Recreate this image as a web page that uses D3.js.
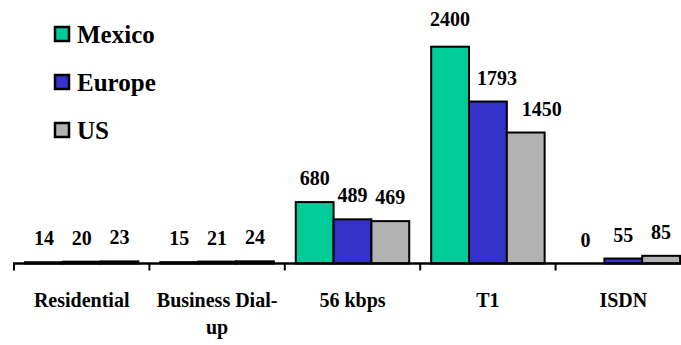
<!DOCTYPE html>
<html>
<head>
<meta charset="utf-8">
<script src="https://cdn.jsdelivr.net/npm/d3@7/dist/d3.min.js"></script>
<style>
  html, body { margin: 0; padding: 0; background: #fff; }
  svg { display: block; }
</style>
</head>
<body>
<svg id="chart" width="681" height="345"></svg>
<script>
// Connection types and monthly cost per country
const categories = ["Residential", "Business Dial-up", "56 kbps", "T1", "ISDN"];
const seriesNames = ["Mexico", "Europe", "US"];
const mexico = [14, 15, 680, 2400, 0];
const europe = [20, 21, 489, 1793, 55];
const us = [23, 24, 469, 1450, 85];

const seriesValues = [mexico, europe, us];
const colors = ["#00CC99", "#3333CC", "#B2B2B2"];

const svg = d3.select("#chart");
const W = 681, H = 345;
const FONT = "Times New Roman";

const axisY = 263.5;
const x0 = d3.scaleBand().domain(categories).range([14, 14 + 135.4 * categories.length]).padding(0);
const x1 = d3.scaleBand().domain(seriesNames).range([0, x0.bandwidth()]).paddingOuter(0.29).paddingInner(0);
const y = d3.scaleLinear().domain([0, 2400]).range([axisY, 46.7]);

// One record per bar
const cells = [];
categories.forEach((c, ci) => seriesNames.forEach((s, si) =>
  cells.push({ cat: c, ser: s, si, v: seriesValues[si][ci] })));
const barX = d => x0(d.cat) + x1(d.ser);

// Bars
svg.selectAll("rect.bar").data(cells.filter(d => d.v > 0)).join("rect")
  .attr("class", "bar")
  .attr("x", barX)
  .attr("y", d => y(d.v))
  .attr("width", x1.bandwidth())
  .attr("height", d => axisY - y(d.v))
  .attr("fill", d => colors[d.si])
  .attr("stroke", "#000")
  .attr("stroke-width", 2);

// Value labels; the tall T1 bars get their labels nudged aside
const nudge = { "T1|Mexico": [0, -4], "T1|Europe": [9, 0], "T1|US": [16, 0] };
svg.selectAll("text.val").data(cells).join("text")
  .attr("class", "val")
  .attr("x", d => barX(d) + x1.bandwidth() / 2 + (nudge[d.cat + "|" + d.ser] || [0, 0])[0])
  .attr("y", d => y(d.v) - 17 + (nudge[d.cat + "|" + d.ser] || [0, 0])[1])
  .attr("text-anchor", "middle")
  .attr("font-family", FONT).attr("font-weight", "bold")
  .attr("font-size", 20)
  .attr("fill", "#000")
  .text(d => d.v);

// Category axis line and tick marks
svg.append("line").attr("x1", 13).attr("x2", W).attr("y1", axisY).attr("y2", axisY)
  .attr("stroke", "#000").attr("stroke-width", 2.5);
const tickPositions = categories.map(c => x0(c)).concat([x0.range()[1]]);
svg.selectAll("line.tk").data(tickPositions).join("line").attr("class", "tk")
  .attr("x1", d => d).attr("x2", d => d).attr("y1", axisY).attr("y2", axisY + 7)
  .attr("stroke", "#000").attr("stroke-width", 2);

// Category labels (Business Dial-up wraps onto two lines)
const catLines = { "Business Dial-up": ["Business Dial-", "up"] };
const catRows = [];
categories.forEach(c => (catLines[c] || [c]).forEach((line, li) => catRows.push({ c, line, li })));
svg.selectAll("text.cat").data(catRows).join("text")
  .attr("class", "cat")
  .attr("x", d => x0(d.c) + x0.bandwidth() / 2)
  .attr("y", d => 307 + d.li * 27)
  .attr("text-anchor", "middle")
  .attr("font-family", FONT).attr("font-weight", "bold")
  .attr("font-size", 20)
  .attr("fill", "#000")
  .text(d => d.line);

// Legend
svg.selectAll("rect.key").data(seriesNames).join("rect")
  .attr("class", "key")
  .attr("x", 55).attr("y", (d, i) => 27 + i * 48)
  .attr("width", 14).attr("height", 14)
  .attr("fill", (d, i) => colors[i])
  .attr("stroke", "#000").attr("stroke-width", 2.5);
svg.selectAll("text.key").data(seriesNames).join("text")
  .attr("class", "key")
  .attr("x", 77).attr("y", (d, i) => 42.5 + i * 48)
  .attr("font-family", FONT).attr("font-weight", "bold")
  .attr("font-size", 25)
  .attr("fill", "#000")
  .text(d => d);
</script>
</body>
</html>
